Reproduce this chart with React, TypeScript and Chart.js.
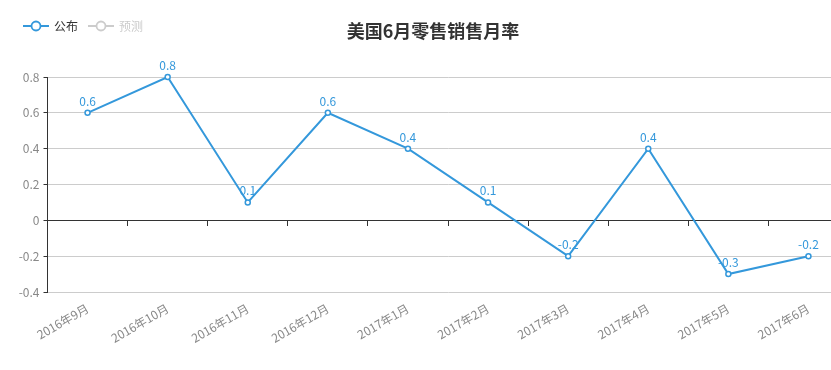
import React, { useEffect, useRef } from 'react';
import { Chart, registerables } from 'chart.js';

Chart.register(...registerables);

const titleText = '美国6月零售销售月率';
const seriesNames = ['公布', '预测'];
const categories = [
  '2016年9月', '2016年10月', '2016年11月', '2016年12月', '2017年1月',
  '2017年2月', '2017年3月', '2017年4月', '2017年5月', '2017年6月',
];
const publishedValues = [0.6, 0.8, 0.1, 0.6, 0.4, 0.1, -0.2, 0.4, -0.3, -0.2];
const yMin = -0.4;
const yMax = 0.8;
const yStep = 0.2;

const BLUE = '#3498db';
const FONT = "'Noto Sans CJK SC', 'Noto Sans', sans-serif";

const valueLabelPlugin = {
  id: 'valueLabels',
  afterDatasetsDraw(chart: any) {
    const ctx = chart.ctx;
    const meta = chart.getDatasetMeta(0);
    const data = chart.data.datasets[0].data;
    ctx.save();
    ctx.font = `12px ${FONT}`;
    ctx.fillStyle = BLUE;
    ctx.textAlign = 'center';
    ctx.textBaseline = 'alphabetic';
    meta.data.forEach((pt: any, i: number) => {
      ctx.fillText(String(data[i]), pt.x, pt.y - 7);
    });
    ctx.restore();
  },
};

function LegendIcon({ color }: { color: string }) {
  return (
    <svg width="26" height="12" style={{ display: 'block' }}>
      <line x1="0" y1="6" x2="26" y2="6" stroke={color} strokeWidth="2" />
      <circle cx="13" cy="6" r="4.5" fill="#fff" stroke={color} strokeWidth="1.8" />
    </svg>
  );
}

export default function App() {
  const canvasRef = useRef<HTMLCanvasElement | null>(null);

  useEffect(() => {
    if (!canvasRef.current) return;
    const chart = new Chart(canvasRef.current, {
      type: 'line',
      data: {
        labels: categories,
        datasets: [
          {
            label: seriesNames[0],
            data: publishedValues,
            borderColor: BLUE,
            backgroundColor: '#fff',
            borderWidth: 2,
            pointRadius: 2.5,
            pointBorderWidth: 1.5,
            pointBackgroundColor: '#fff',
            pointBorderColor: BLUE,
            tension: 0,
            clip: false as any,
          },
        ],
      },
      options: {
        animation: false,
        responsive: false,
        devicePixelRatio: 1,
        layout: { padding: { left: 0.5, right: 17.5, top: 77, bottom: 0 } },
        plugins: {
          legend: { display: false },
          title: { display: false },
          tooltip: { enabled: false },
        },
        scales: {
          x: {
            type: 'category',
            offset: true,
            position: 'bottom',
            grid: { display: false, drawTicks: false },
            border: { display: false },
            ticks: {
              minRotation: 30,
              maxRotation: 30,
              autoSkip: false,
              padding: 9,
              color: '#888',
              font: { size: 12, family: FONT },
            },
            afterFit: (s: any) => {
              s.height = 78;
            },
          },
          x2: {
            type: 'category',
            offset: true,
            position: { y: 0 } as any,
            grid: {
              offset: true,
              drawOnChartArea: false,
              drawTicks: true,
              tickLength: 5,
              tickColor: '#333',
              color: '#333',
            },
            border: { display: true, color: '#333', width: 1 },
            ticks: { display: false },
          },
          y: {
            type: 'linear',
            min: yMin,
            max: yMax,
            ticks: {
              stepSize: yStep,
              color: '#888',
              padding: 4,
              font: { size: 12, family: FONT },
              callback: (v: any) => String(Math.round(Number(v) * 10) / 10),
            },
            grid: {
              color: (c: any) => (c.tick && Math.abs(c.tick.value) < 1e-9 ? '#333' : '#ccc'),
              tickColor: '#333',
              tickLength: 4,
            },
            border: { display: true, color: '#333', width: 1 },
            afterFit: (s: any) => {
              s.width = 47;
            },
          },
        },
      } as any,
      plugins: [valueLabelPlugin],
    });
    return () => chart.destroy();
  }, []);

  return (
    <div
      style={{
        position: 'fixed',
        left: 0,
        top: 0,
        width: 831,
        height: 370,
        overflow: 'hidden',
        background: '#fff',
        fontFamily: FONT,
      }}
    >
      <canvas ref={canvasRef} width={866} height={370} style={{ display: 'block', width: 866, height: 370 }} />
      <div
        style={{
          position: 'absolute',
          left: 0,
          top: 20,
          width: 866,
          textAlign: 'center',
          fontSize: 18,
          lineHeight: '20px',
          fontWeight: 'bold',
          color: '#333',
        }}
      >
        {titleText}
      </div>
      <div
        style={{
          position: 'absolute',
          left: 23,
          top: 18,
          display: 'flex',
          alignItems: 'center',
          fontSize: 12,
          lineHeight: '16px',
        }}
      >
        <LegendIcon color={BLUE} />
        <span style={{ marginLeft: 5, color: '#333' }}>{seriesNames[0]}</span>
        <span style={{ marginLeft: 10 }}>
          <LegendIcon color="#ccc" />
        </span>
        <span style={{ marginLeft: 5, color: '#ccc' }}>{seriesNames[1]}</span>
      </div>
    </div>
  );
}
